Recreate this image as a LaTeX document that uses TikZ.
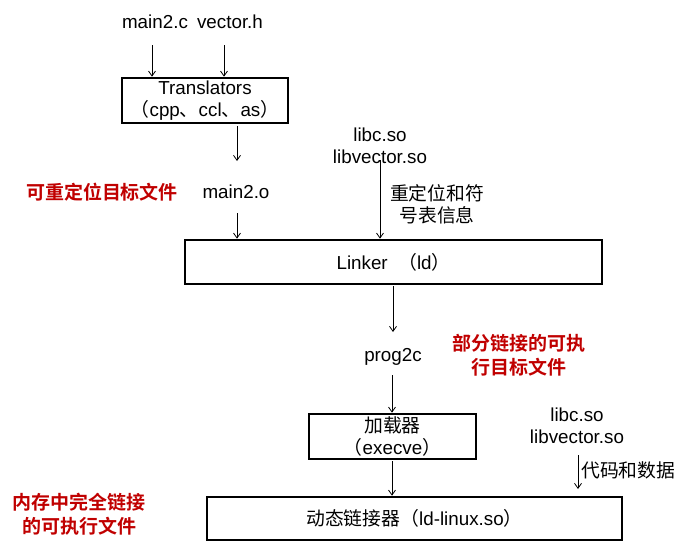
\documentclass[tikz,border=0pt]{standalone}
\usepackage{fontspec}
\setmainfont{Liberation Sans}
\newfontfamily\cjk[BoldFont={Noto Sans CJK SC Bold},Scale=1.0]{Noto Sans CJK SC}
\usetikzlibrary{arrows.meta}
\definecolor{redtxt}{RGB}{192,0,0}
\begin{document}
\begin{tikzpicture}[x=1pt,y=-1pt,
  lbl/.style={inner sep=0pt,align=center,font=\fontsize{18.8}{22}\selectfont},
  redlbl/.style={inner sep=0pt,align=center,text=redtxt,font=\fontsize{19}{24}\selectfont\cjk\bfseries},
  box/.style={draw,line width=2.6pt,inner sep=0pt,align=center,font=\fontsize{18.8}{22.5}\selectfont},
  arr/.style={-{Straight Barb[length=5pt,width=7pt]},line width=0.8pt}]
\useasboundingbox (0,0) rectangle (688,544);
% top inputs
\node[lbl] (m2c) at (155,22) {main2.c};
\node[lbl] (vech) at (230,22) {vector.h};
\node[box,minimum width=166pt,minimum height=45pt] (trans) at (205,100.5)
  {Translators\\{\cjk （}cpp{\cjk 、}ccl{\cjk 、}as{\cjk ）}};
\coordinate (a1) at (152,45);
\coordinate (a2) at (224,45);
\draw[arr] (a1) -- (a1 |- trans.north);
\draw[arr] (a2) -- (a2 |- trans.north);
% main2.o
\coordinate (a3) at (237,126);
\coordinate (a3e) at (237,161);
\draw[arr] (a3) -- (a3e);
\node[lbl] (m2o) at (236,192) {main2.o};
\node[redlbl] (reloc) at (102,192) {可重定位目标文件};
% libs to linker
\node[lbl] (libs1) at (380,146) {libc.so\\libvector.so};
\node[lbl,font=\fontsize{18.8}{22}\selectfont\cjk] (relinfo) at (437,204) {重定位和符\\号表信息};
\node[box,minimum width=417pt,minimum height=44pt] (linker) at (393.5,262)
  {Linker\ \ {\cjk （}ld{\cjk ）}};
\coordinate (a4) at (237,213);
\draw[arr] (a4) -- (a4 |- linker.north);
\coordinate (a5) at (380,160);
\draw[arr] (a5) -- (a5 |- linker.north);
% prog2c
\node[lbl] (prog) at (393,357) {prog2c};
\coordinate (a6) at (393,286);
\coordinate (a6e) at (393,332);
\draw[arr] (a6) -- (a6e);
\node[redlbl] (partial) at (519,355) {部分链接的可执\\行目标文件};
% loader
\node[box,minimum width=167pt,minimum height=45pt] (loader) at (392.5,436.5)
  {{\cjk 加载器}\\{\cjk （}execve{\cjk ）}};
\coordinate (a7) at (392,375);
\draw[arr] (a7) -- (a7 |- loader.north);
% dynamic linker
\node[box,minimum width=415pt,minimum height=43pt] (dyn) at (414.5,518.5)
  {{\cjk 动态链接器（}ld-linux.so{\cjk ）}};
\coordinate (a8) at (392,461);
\draw[arr] (a8) -- (a8 |- dyn.north);
\node[lbl] (libs2) at (577,426) {libc.so\\libvector.so};
\coordinate (a9) at (578,455);
\coordinate (a9e) at (578,489);
\draw[arr] (a9) -- (a9e);
\node[lbl,font=\fontsize{18.8}{22}\selectfont\cjk,anchor=west] (codedata) at (581,470) {代码和数据};
\node[redlbl] (mem) at (79,514) {内存中完全链接\\的可执行文件};
\end{tikzpicture}
\end{document}
